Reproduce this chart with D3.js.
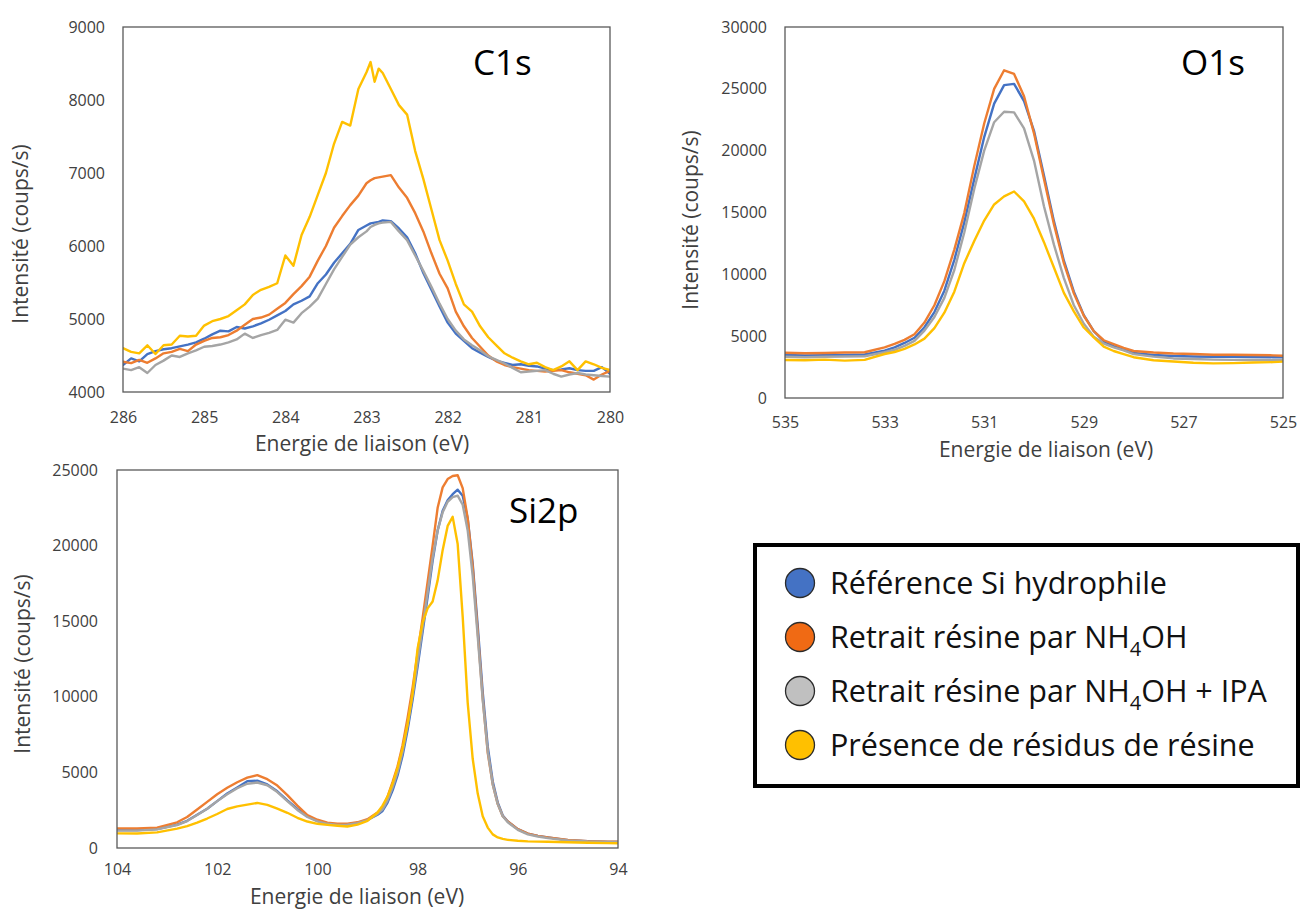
<!DOCTYPE html>
<html>
<head>
<meta charset="utf-8">
<script src="https://cdn.jsdelivr.net/npm/d3@7"></script>
<style>
  body { margin: 0; background: #ffffff; }
  svg text { font-family: "Open Sans", "Noto Sans", sans-serif; }
</style>
</head>
<body>
<svg id="chart" width="1301" height="909"></svg>
<script>
// ---------------- DATA ----------------
const SERIES_NAMES = ["Référence Si hydrophile", "Retrait résine par NH4OH", "Retrait résine par NH4OH + IPA", "Présence de résidus de résine"];

// C1s
const C1S_ENERGY = [286.0,285.9,285.8,285.7,285.6,285.5,285.4,285.3,285.2,285.1,
  285.0,284.9,284.8,284.7,284.6,284.5,284.4,284.3,284.2,284.1,
  284.0,283.9,283.8,283.7,283.6,283.5,283.4,283.3,283.2,283.1,
  283.0,282.95,282.9,282.85,282.8,282.7,282.6,282.5,282.4,282.3,
  282.2,282.1,282.0,281.9,281.8,281.7,281.6,281.5,281.4,281.3,
  281.2,281.1,281.0,280.9,280.8,280.7,280.6,280.5,280.4,280.3,
  280.2,280.1,280.0];
const C1S_REF = [4370,4460,4420,4520,4560,4585,4600,4625,4650,4680,
  4730,4790,4840,4830,4890,4870,4900,4940,4990,5050,
  5110,5200,5250,5310,5490,5610,5770,5900,6030,6220,
  6280,6310,6320,6330,6350,6340,6240,6120,5900,5630,
  5400,5170,4950,4800,4700,4600,4540,4480,4430,4400,
  4370,4380,4360,4350,4320,4300,4310,4325,4300,4290,
  4290,4340,4250];
const C1S_NH4OH = [4415,4395,4440,4400,4460,4530,4550,4590,4560,4650,
  4700,4740,4750,4780,4840,4920,5000,5020,5060,5140,
  5220,5340,5450,5580,5800,6000,6250,6410,6560,6690,
  6860,6900,6930,6940,6950,6970,6800,6660,6450,6200,
  5900,5620,5420,5100,4900,4740,4620,4500,4420,4370,
  4340,4320,4300,4290,4280,4290,4300,4270,4250,4230,
  4170,4240,4290];
const C1S_NH4OH_IPA = [4320,4300,4340,4260,4370,4430,4500,4480,4530,4570,
  4620,4630,4650,4680,4720,4800,4740,4780,4810,4850,
  4990,4950,5080,5170,5280,5480,5680,5850,6020,6120,
  6200,6260,6290,6310,6320,6330,6200,6080,5870,5660,
  5440,5210,5000,4840,4720,4640,4570,4490,4440,4390,
  4330,4270,4280,4290,4300,4250,4210,4240,4260,4240,
  4230,4220,4210];
const C1S_RESIDUS = [4600,4550,4530,4640,4520,4640,4650,4770,4760,4770,
  4910,4970,5000,5040,5120,5200,5330,5400,5440,5490,
  5870,5730,6150,6400,6700,7000,7400,7700,7650,8150,
  8380,8520,8250,8430,8370,8150,7930,7800,7300,6920,
  6500,6080,5800,5480,5200,5100,4900,4750,4640,4530,
  4470,4420,4380,4400,4340,4300,4350,4420,4300,4420,
  4380,4330,4300];
const C1S_X_TICKS = [286, 285, 284, 283, 282, 281, 280];
const C1S_Y_TICKS = [4000, 5000, 6000, 7000, 8000, 9000];

// O1s
const O1S_ENERGY = [535.0,534.6,534.2,533.8,533.4,533.0,532.8,532.6,532.4,532.2,
  532.0,531.8,531.6,531.4,531.2,531.0,530.8,530.6,530.4,530.2,
  530.0,529.8,529.6,529.4,529.2,529.0,528.8,528.6,528.4,528.2,
  528.0,527.6,527.2,526.8,526.4,526.0,525.6,525.2,525.0];
const O1S_REF = [3480,3450,3470,3490,3520,3830,4100,4450,4870,5720,
  6950,8680,11170,14200,17700,21100,23800,25300,25400,24000,
  21600,18000,14300,11100,8600,6700,5400,4600,4200,3900,
  3650,3480,3400,3350,3330,3330,3320,3300,3300];
const O1S_NH4OH = [3660,3620,3640,3680,3700,4100,4370,4700,5150,6100,
  7500,9450,12000,14950,18750,22200,25000,26500,26200,24400,
  21400,17700,14060,10900,8460,6650,5400,4670,4350,4050,
  3800,3680,3600,3560,3500,3500,3480,3450,3420];
const O1S_NH4OH_IPA = [3340,3300,3330,3350,3380,3700,3900,4220,4620,5450,
  6550,8100,10350,13380,16900,20000,22300,23150,23100,21800,
  19200,15500,12400,9700,7500,6000,4950,4400,4100,3850,
  3550,3350,3200,3150,3100,3080,3070,3060,3070];
const O1S_RESIDUS = [3070,3050,3100,3020,3080,3560,3720,3980,4330,4800,
  5650,6900,8600,10900,12700,14350,15650,16300,16700,15900,
  14500,12600,10550,8500,7000,5700,4900,4150,3800,3550,
  3300,3050,2950,2850,2800,2820,2870,2900,2940];
const O1S_X_TICKS = [535, 533, 531, 529, 527, 525];
const O1S_Y_TICKS = [0, 5000, 10000, 15000, 20000, 25000, 30000];

// Si2p
const SI2P_ENERGY = [104.0,103.6,103.2,102.8,102.6,102.4,102.2,102.0,101.8,101.6,
  101.4,101.2,101.0,100.8,100.6,100.4,100.2,100.0,99.8,99.6,
  99.4,99.2,99.0,98.8,98.7,98.6,98.5,98.4,98.3,98.2,
  98.1,98.0,97.9,97.8,97.7,97.6,97.5,97.4,97.3,97.2,
  97.1,97.0,96.9,96.8,96.7,96.6,96.5,96.4,96.3,96.2,
  96.0,95.8,95.6,95.4,95.0,94.6,94.2,94.0];
const SI2P_REF = [1190,1190,1250,1550,1800,2200,2600,3100,3600,4000,
  4420,4450,4200,3750,3150,2580,2100,1800,1620,1530,
  1560,1650,1850,2200,2450,3000,3800,4800,6100,7800,
  9800,12000,14300,16600,19000,21000,22300,23000,23400,23700,
  23300,21800,18800,14700,10300,6700,4400,3000,2150,1750,
  1250,950,800,700,520,450,400,400];
const SI2P_NH4OH = [1300,1290,1350,1700,2050,2550,3050,3550,3980,4350,
  4650,4820,4550,4130,3500,2800,2170,1870,1680,1600,
  1600,1700,1900,2350,2650,3400,4350,5400,6800,8600,
  10600,12900,15200,17600,20000,22500,23850,24400,24600,24650,
  23800,21800,18600,14300,9900,6300,4200,2900,2100,1750,
  1250,950,800,700,530,450,420,420];
const SI2P_NH4OH_IPA = [1150,1150,1230,1520,1780,2180,2600,3100,3550,3950,
  4250,4330,4150,3700,3100,2520,2050,1760,1600,1520,
  1540,1640,1850,2250,2550,3150,4000,5000,6350,8100,
  10100,12300,14600,16900,19200,21000,22200,22900,23200,23300,
  22700,21000,18000,14000,9800,6400,4200,2900,2100,1700,
  1200,900,760,650,500,430,400,400];
const SI2P_RESIDUS = [970,960,1030,1280,1450,1680,1950,2250,2580,2750,
  2870,2980,2850,2600,2330,2000,1750,1600,1530,1470,
  1420,1550,1800,2350,2800,3400,4250,5300,6600,8200,
  10200,13200,14900,15850,16300,17700,19700,21300,21900,20100,
  15300,9600,5900,3600,2100,1350,900,700,600,540,
  480,440,420,410,380,350,320,310];
const SI2P_X_TICKS = [104, 102, 100, 98, 96, 94];
const SI2P_Y_TICKS = [0, 5000, 10000, 15000, 20000, 25000];

// ---------------- STYLE / LAYOUT ----------------
const LINE_COLORS = ["#4472C4", "#ED7D31", "#A5A5A5", "#FFC000"];
const LEGEND_COLORS = ["#4472C4", "#F06A14", "#C0C0C0", "#FFC000"];
const TEXT_COLOR = "#404040";

const panels = [
  { title: "C1s", energy: C1S_ENERGY, values: [C1S_REF, C1S_NH4OH, C1S_NH4OH_IPA, C1S_RESIDUS],
    xTicks: C1S_X_TICKS, yTicks: C1S_Y_TICKS, xDomain: [286, 280], yDomain: [4000, 9000],
    box: { l: 123, r: 610, t: 27, b: 392 }, xPad: 20, yPad: 18,
    titlePos: [473, 75], xTitle: [362, 451], yTitle: [28, 234] },
  { title: "O1s", energy: O1S_ENERGY, values: [O1S_REF, O1S_NH4OH, O1S_NH4OH_IPA, O1S_RESIDUS],
    xTicks: O1S_X_TICKS, yTicks: O1S_Y_TICKS, xDomain: [535, 525], yDomain: [0, 30000],
    box: { l: 785, r: 1283, t: 27, b: 398 }, xPad: 19, yPad: 18,
    titlePos: [1181, 75], xTitle: [1046, 457], yTitle: [698, 220] },
  { title: "Si2p", energy: SI2P_ENERGY, values: [SI2P_REF, SI2P_NH4OH, SI2P_NH4OH_IPA, SI2P_RESIDUS],
    xTicks: SI2P_X_TICKS, yTicks: SI2P_Y_TICKS, xDomain: [104, 94], yDomain: [0, 25000],
    box: { l: 117, r: 618, t: 470, b: 848 }, xPad: 16, yPad: 19,
    titlePos: [509, 523], xTitle: [357, 904], yTitle: [30, 664] }
];

const svg = d3.select("#chart");

panels.forEach((p, pi) => {
  const x = d3.scaleLinear().domain(p.xDomain).range([p.box.l, p.box.r]);
  const y = d3.scaleLinear().domain(p.yDomain).range([p.box.b, p.box.t]);
  const g = svg.append("g");

  const clipId = "clip" + pi;
  svg.append("clipPath").attr("id", clipId)
    .append("rect").attr("x", p.box.l).attr("y", p.box.t)
    .attr("width", p.box.r - p.box.l).attr("height", p.box.b - p.box.t);

  const line = d3.line()
    .x((d, i) => x(p.energy[i]))
    .y(d => y(d));

  const lines = g.append("g").attr("clip-path", `url(#${clipId})`);
  p.values.forEach((vals, si) => {
    lines.append("path")
      .datum(vals)
      .attr("d", line)
      .attr("fill", "none")
      .attr("stroke", LINE_COLORS[si])
      .attr("stroke-width", 2.4)
      .attr("stroke-linejoin", "round")
      .attr("stroke-linecap", "round");
  });

  g.append("rect")
    .attr("x", p.box.l).attr("y", p.box.t)
    .attr("width", p.box.r - p.box.l).attr("height", p.box.b - p.box.t)
    .attr("fill", "none").attr("stroke", "#595959").attr("stroke-width", 1.3);

  const xAxis = g.append("g")
    .attr("transform", `translate(0,${p.box.b})`)
    .call(d3.axisBottom(x).tickValues(p.xTicks).tickSize(0).tickPadding(p.xPad).tickFormat(d3.format("d")));
  xAxis.select(".domain").remove();
  xAxis.selectAll("text").attr("font-size", 16).attr("fill", TEXT_COLOR)
    .style("font-family", '"Open Sans", sans-serif');

  const yAxis = g.append("g")
    .attr("transform", `translate(${p.box.l},0)`)
    .call(d3.axisLeft(y).tickValues(p.yTicks).tickSize(0).tickPadding(p.yPad).tickFormat(d3.format("d")));
  yAxis.select(".domain").remove();
  yAxis.selectAll("text").attr("font-size", 16).attr("fill", TEXT_COLOR)
    .style("font-family", '"Open Sans", sans-serif');

  g.append("text")
    .attr("x", p.xTitle[0]).attr("y", p.xTitle[1])
    .attr("text-anchor", "middle").attr("font-size", 21).attr("fill", TEXT_COLOR)
    .text("Energie de liaison (eV)");

  g.append("text")
    .attr("transform", `translate(${p.yTitle[0]},${p.yTitle[1]}) rotate(-90)`)
    .attr("text-anchor", "middle").attr("font-size", 21).attr("fill", TEXT_COLOR)
    .text("Intensité (coups/s)");

  g.append("text")
    .attr("x", p.titlePos[0]).attr("y", p.titlePos[1])
    .attr("font-size", 35).attr("fill", "#000")
    .text(p.title);
});

// ---------------- LEGEND ----------------
const legend = svg.append("g");
legend.append("rect")
  .attr("x", 755).attr("y", 545).attr("width", 543).attr("height", 241)
  .attr("fill", "#fff").attr("stroke", "#000").attr("stroke-width", 4);

const rowY = d3.scalePoint().domain(d3.range(SERIES_NAMES.length)).range([583, 745]);

SERIES_NAMES.forEach((name, i) => {
  const cy = rowY(i);
  legend.append("circle")
    .attr("cx", 800).attr("cy", cy).attr("r", 14.5)
    .attr("fill", LEGEND_COLORS[i]).attr("stroke", "#2b2b2b").attr("stroke-width", 1.3);
  const t = legend.append("text")
    .attr("x", 830).attr("y", cy + 10.5)
    .attr("font-size", 30.5).attr("fill", "#111");
  const parts = name.split("NH4OH");
  if (parts.length === 1) {
    t.text(name);
  } else {
    t.append("tspan").text(parts[0] + "NH");
    t.append("tspan").attr("font-size", 20).attr("dy", 8).text("4");
    t.append("tspan").attr("dy", -8).text("OH" + parts[1]);
  }
});
</script>
</body>
</html>
